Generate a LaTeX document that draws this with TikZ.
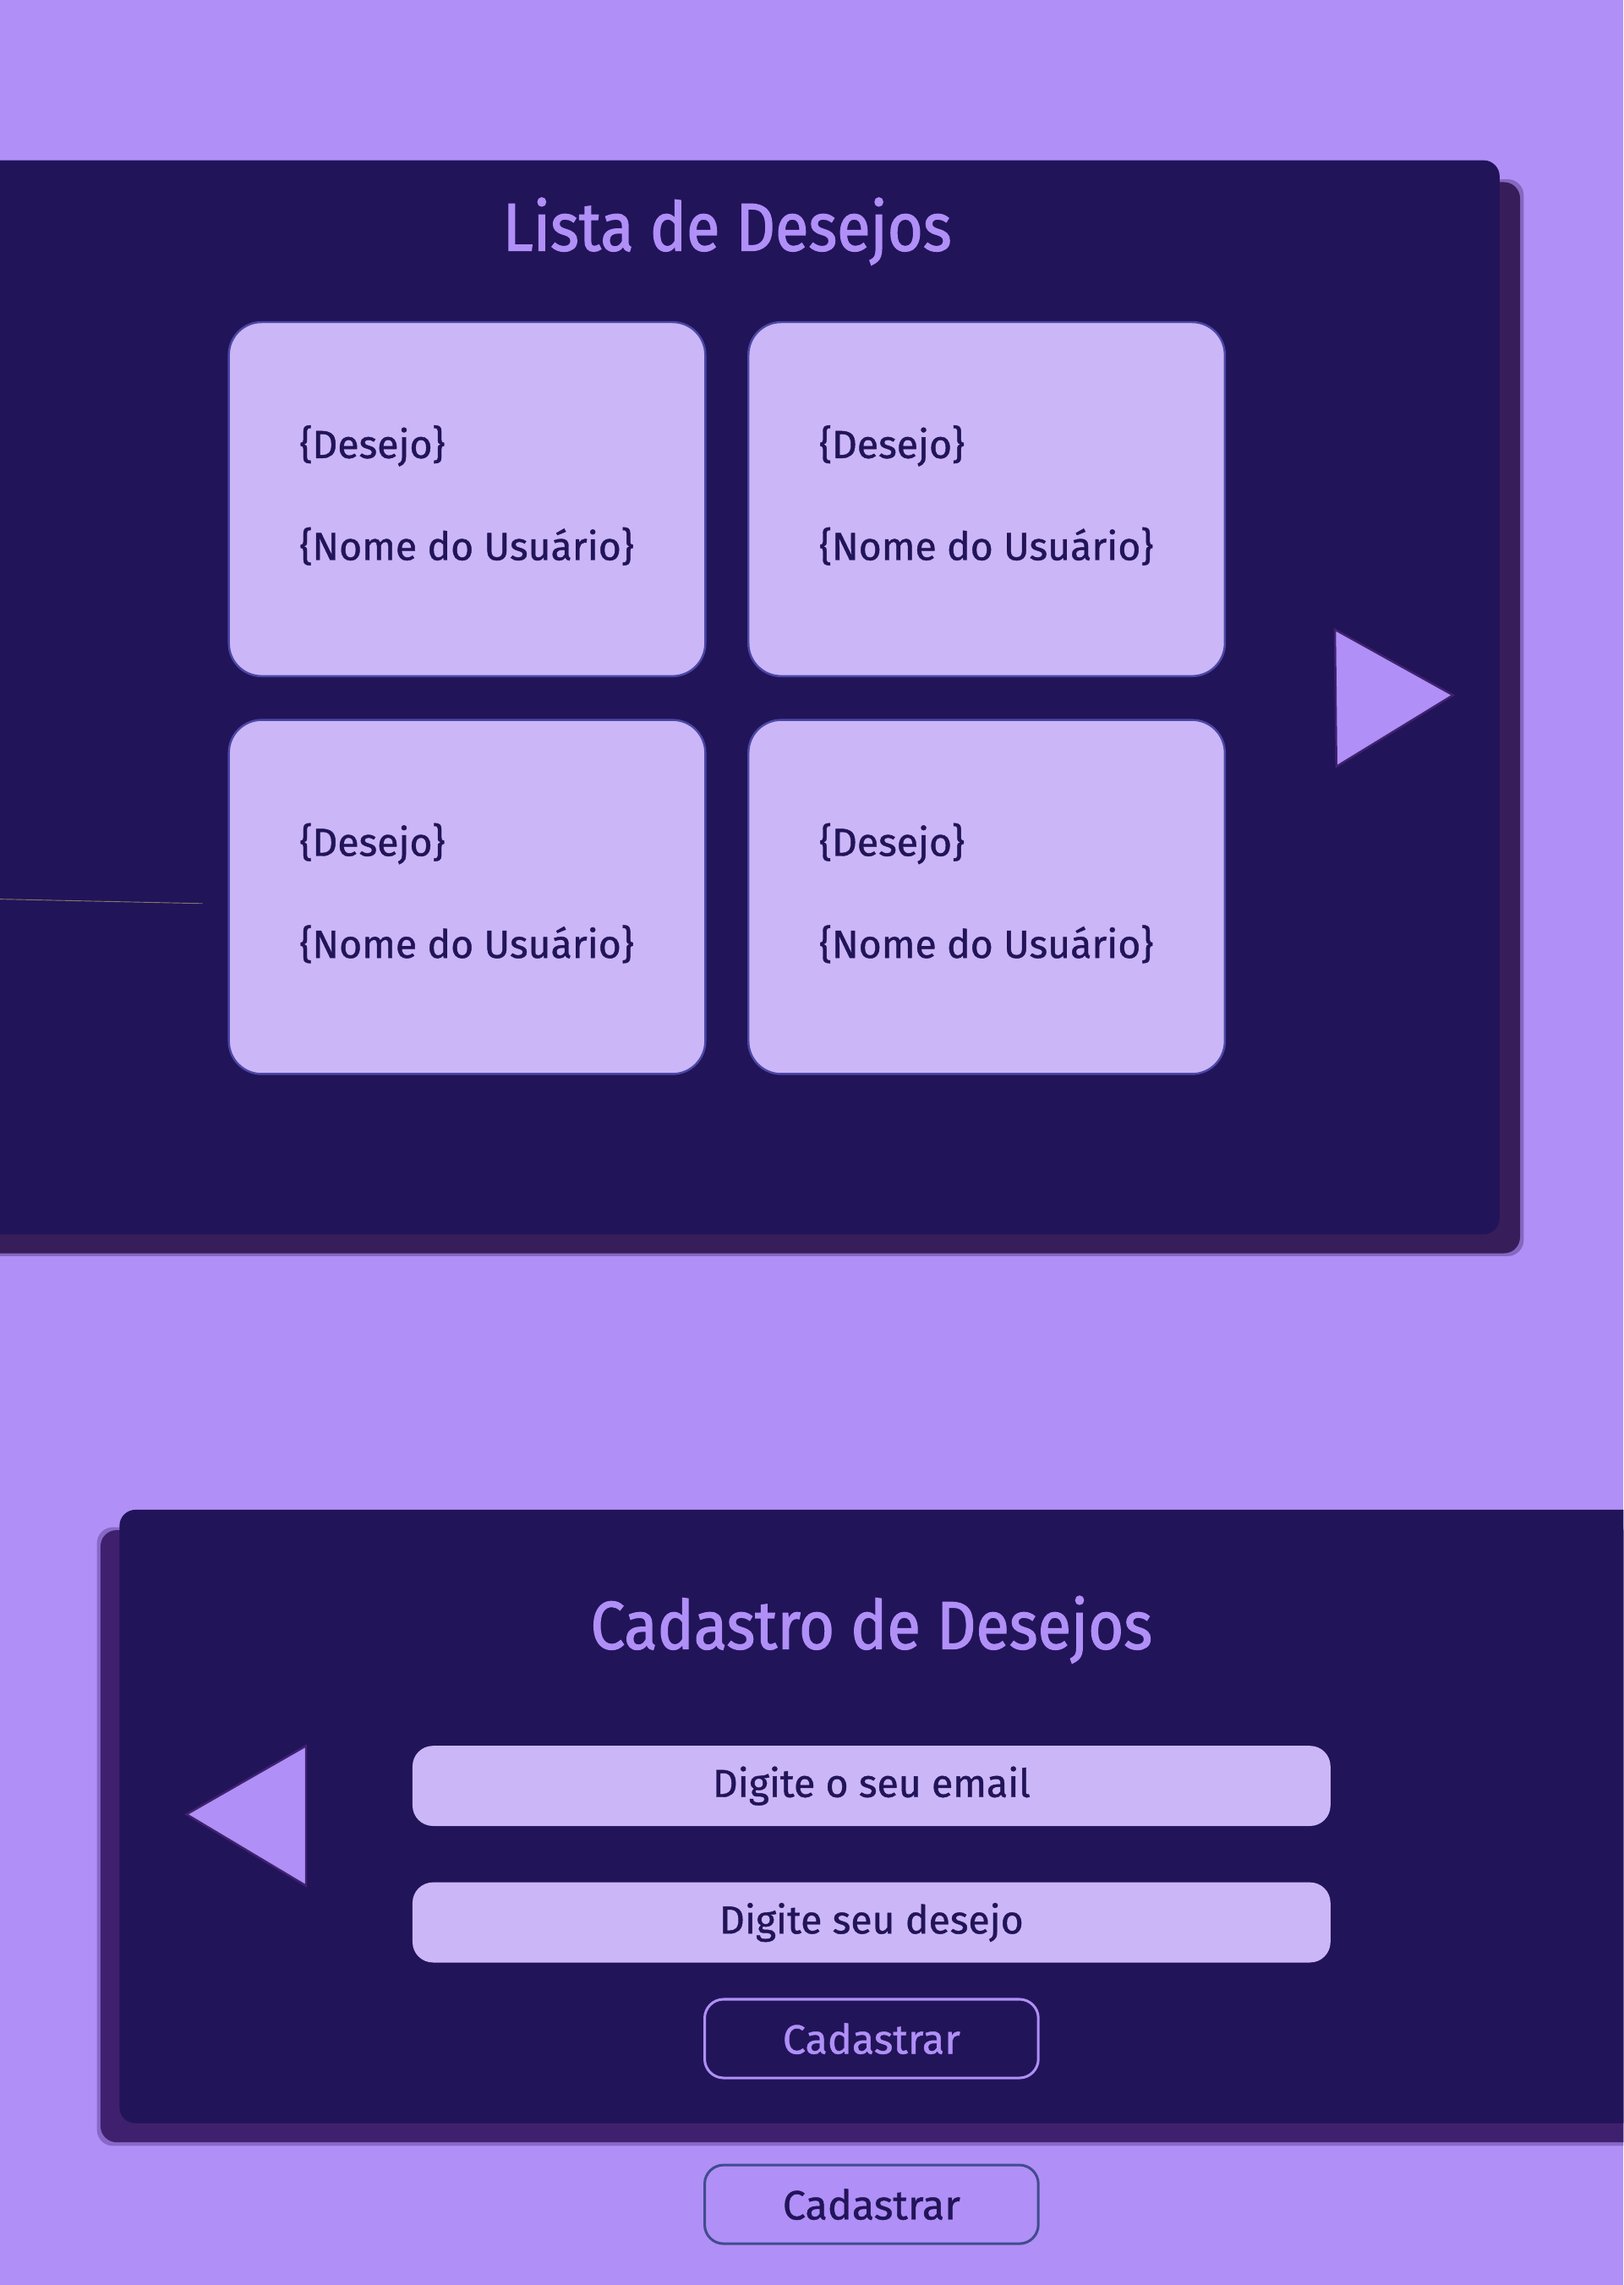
\documentclass[tikz,border=0pt]{standalone}
\usepackage{fontspec}
\setmainfont{Fira Sans}[FakeBold=0.9]
\newfontfamily\titlefont{Fira Sans}[FakeStretch=0.9, FakeBold=1.6]
\usepackage{xcolor}
\usetikzlibrary{positioning,calc}
\definecolor{wishbg}{HTML}{B08FF7}
\definecolor{wishpanel}{HTML}{221459}
\definecolor{wishcard}{HTML}{CBB6F7}
\definecolor{wishshadowA}{HTML}{371E5B}
\definecolor{wishshadowB}{HTML}{3F206F}
\definecolor{wishedge}{HTML}{4B47A6}
\definecolor{wishtri}{HTML}{3F2270}
\definecolor{wishbtn}{HTML}{414C8C}
\definecolor{wishline}{HTML}{857868}

\begin{document}
\begin{tikzpicture}[x=0.02cm, y=-0.02cm,
    card/.style={draw=wishedge, line width=0.8pt, fill=wishcard, rounded corners=0.45cm, minimum width=6.54cm, minimum height=4.86cm},
    cardtext/.style={text=wishpanel, font=\fontsize{15.3}{18}\selectfont, inner sep=0pt, anchor=base west},
    paneltitle/.style={text=wishbg, font=\titlefont\fontsize{26.5}{30}\selectfont, inner sep=0pt, anchor=base},
    field/.style={fill=wishcard, rounded corners=0.28cm, minimum width=12.6cm, minimum height=1.1cm, text=wishpanel, font=\fontsize{15.3}{18}\selectfont},
    sendbtn/.style={rounded corners=0.26cm, line width=1pt, minimum width=4.58cm, minimum height=1.08cm, font=\fontsize{16}{19}\selectfont},
    arrowtri/.style={fill=wishbg, draw=wishtri, line width=0.8pt, line join=miter},
    panelbox/.style={rounded corners=0.22cm}]
    \useasboundingbox (0,0) rectangle (1114,1568);
    \clip (0,0) rectangle (1114,1568);
    \fill[wishbg] (0,0) rectangle (1114,1568);

    \fill[panelbox, wishshadowA, opacity=0.35] (-40,123) rectangle (1045.5,862);
    \fill[panelbox, wishshadowA] (-40,125) rectangle (1043,860);
    \fill[panelbox, wishpanel] (-40,110) rectangle (1029,847);
    \node[paneltitle] (listtitle) at (499,172) {Lista de Desejos};
    \foreach \n/\cx/\cy in {1/320.5/342.5, 2/677/342.5, 3/320.5/615.5, 4/677/615.5}{
        \node[card] (card\n) at (\cx,\cy) {};
        \node[cardtext] (wish\n) at ([shift={(49,94)}]card\n.north west) {\{Desejo\}};
        \node[cardtext, below=1.4cm of wish\n.base west, anchor=base west] (user\n) {\{Nome do Usuário\}};
    }
    \draw[arrowtri] (916,432) -- (997,477) -- (917,526) -- cycle;
    \coordinate (strayA) at (0,617);
    \coordinate (strayB) at (139,620);
    \draw[wishline, line width=0.3pt] (strayA) -- (strayB);

    \fill[panelbox, wishshadowB, opacity=0.35] (66.5,1048) rectangle (1160,1472.5);
    \fill[panelbox, wishshadowB] (69,1050) rectangle (1160,1470);
    \fill[panelbox, wishpanel] (82,1036) rectangle (1160,1457);
    \node[paneltitle] (formtitle) at (598,1131.5) {Cadastro de Desejos};
    \draw[arrowtri] (210,1198) -- (128,1245) -- (210,1294) -- cycle;
    \node[field] (email) at (598,1225.5) {Digite o seu email};
    \node[field, below=0.76cm of email] (desire) {Digite seu desejo};
    \node[sendbtn, draw=wishbg, text=wishbg, below=0.48cm of desire] (send) {Cadastrar};
    \node[sendbtn, draw=wishbtn, text=wishpanel, below=1.16cm of send] (sendout) {Cadastrar};
\end{tikzpicture}
\end{document}
